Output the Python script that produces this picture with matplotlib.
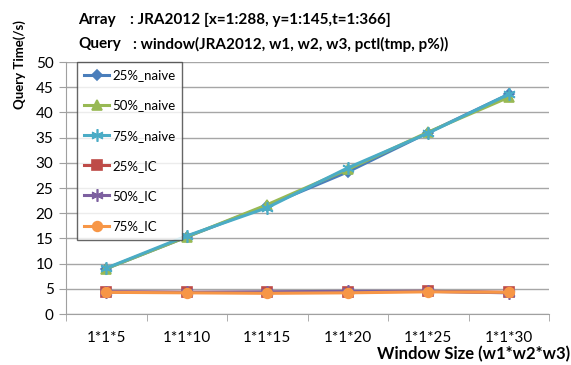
import matplotlib
matplotlib.use("Agg")
import matplotlib.pyplot as plt

plt.rcParams['font.family'] = ['Lato', 'DejaVu Sans']

# data
sizes = ["1*1*5", "1*1*10", "1*1*15", "1*1*20", "1*1*25", "1*1*30"]
naive_25 = [9.0, 15.3, 21.5, 28.2, 36.0, 43.6]
naive_50 = [9.0, 15.3, 21.7, 28.7, 36.1, 43.0]
naive_75 = [9.1, 15.5, 21.1, 29.0, 35.9, 43.6]
ic_25 = [4.4, 4.3, 4.3, 4.4, 4.5, 4.3]
ic_50 = [4.4, 4.3, 4.4, 4.5, 4.5, 4.2]
ic_75 = [4.3, 4.2, 4.1, 4.2, 4.4, 4.3]

series = [
    ("25%_naive", naive_25, '#4A7EBB', 'D', 5),
    ("50%_naive", naive_50, '#98B954', '^', 7),
    ("75%_naive", naive_75, '#4BACC6', (6, 2, 0), 9),
    ("25%_IC", ic_25, '#BE4B48', 's', 7),
    ("50%_IC", ic_50, '#7D60A0', (6, 2, 0), 9),
    ("75%_IC", ic_75, '#F79646', 'o', 7),
]

fig = plt.figure(figsize=(5.71, 3.65), dpi=100)
ax = fig.add_axes([66/571, 1 - 314/365, (549 - 66)/571, (314 - 62)/365])

x = list(range(len(sizes)))
for name, vals, col, mk, ms in series:
    ax.plot(x, vals, color=col, lw=2.2, marker=mk, markersize=ms,
            markerfacecolor=col, markeredgecolor=col, markeredgewidth=1.2,
            label=name)

ax.set_xlim(-0.5, len(sizes) - 0.5)
ax.set_ylim(0, 50)
ax.set_yticks(range(0, 51, 5))
ax.set_xticks(x)
ax.set_xticklabels(sizes)
ax.set_xticks([i - 0.5 for i in range(len(sizes) + 1)], minor=True)
ax.tick_params(axis='x', which='major', length=0, pad=12, labelsize=11)
ax.tick_params(axis='x', which='minor', length=5, color='#A0A0A0')
ax.tick_params(axis='y', length=5, color='#A0A0A0', labelsize=11, pad=4)
ax.grid(axis='y', color='#A6A6A6', lw=1)
ax.set_axisbelow(True)
for s in ['top', 'right']:
    ax.spines[s].set_visible(False)
for s in ['left', 'bottom']:
    ax.spines[s].set_color('#A0A0A0')

leg = ax.legend(loc='upper left', bbox_to_anchor=(11/483, 1.0), fontsize=9.5,
                frameon=True, fancybox=False, labelspacing=1.38,
                handlelength=1.9, handletextpad=0.2, borderpad=0.55,
                borderaxespad=0)
leg.get_frame().set_edgecolor('#404040')
leg.get_frame().set_linewidth(1)

fig.text(20/571, 1 - 65/365, "Query Time(/s)", rotation=90, fontsize=9.5,
         fontweight='bold', ha='center', va='center')
fig.text(570/571, 1 - 354/365, "Window Size (w1*w2*w3)", fontsize=12,
         fontweight='bold', ha='right', va='center')
fig.text(78/571, 1 - 20/365, "Array", fontsize=11, fontweight='bold', va='center')
fig.text(130/571, 1 - 20/365, ": JRA2012 [x=1:288, y=1:145,t=1:366]",
         fontsize=11, fontweight='bold', va='center')
fig.text(78/571, 1 - 44/365, "Query", fontsize=11, fontweight='bold', va='center')
fig.text(133/571, 1 - 44/365, ": window(JRA2012, w1, w2, w3, pctl(tmp, p%))",
         fontsize=11, fontweight='bold', va='center')

fig.savefig("out.png", dpi=100)
